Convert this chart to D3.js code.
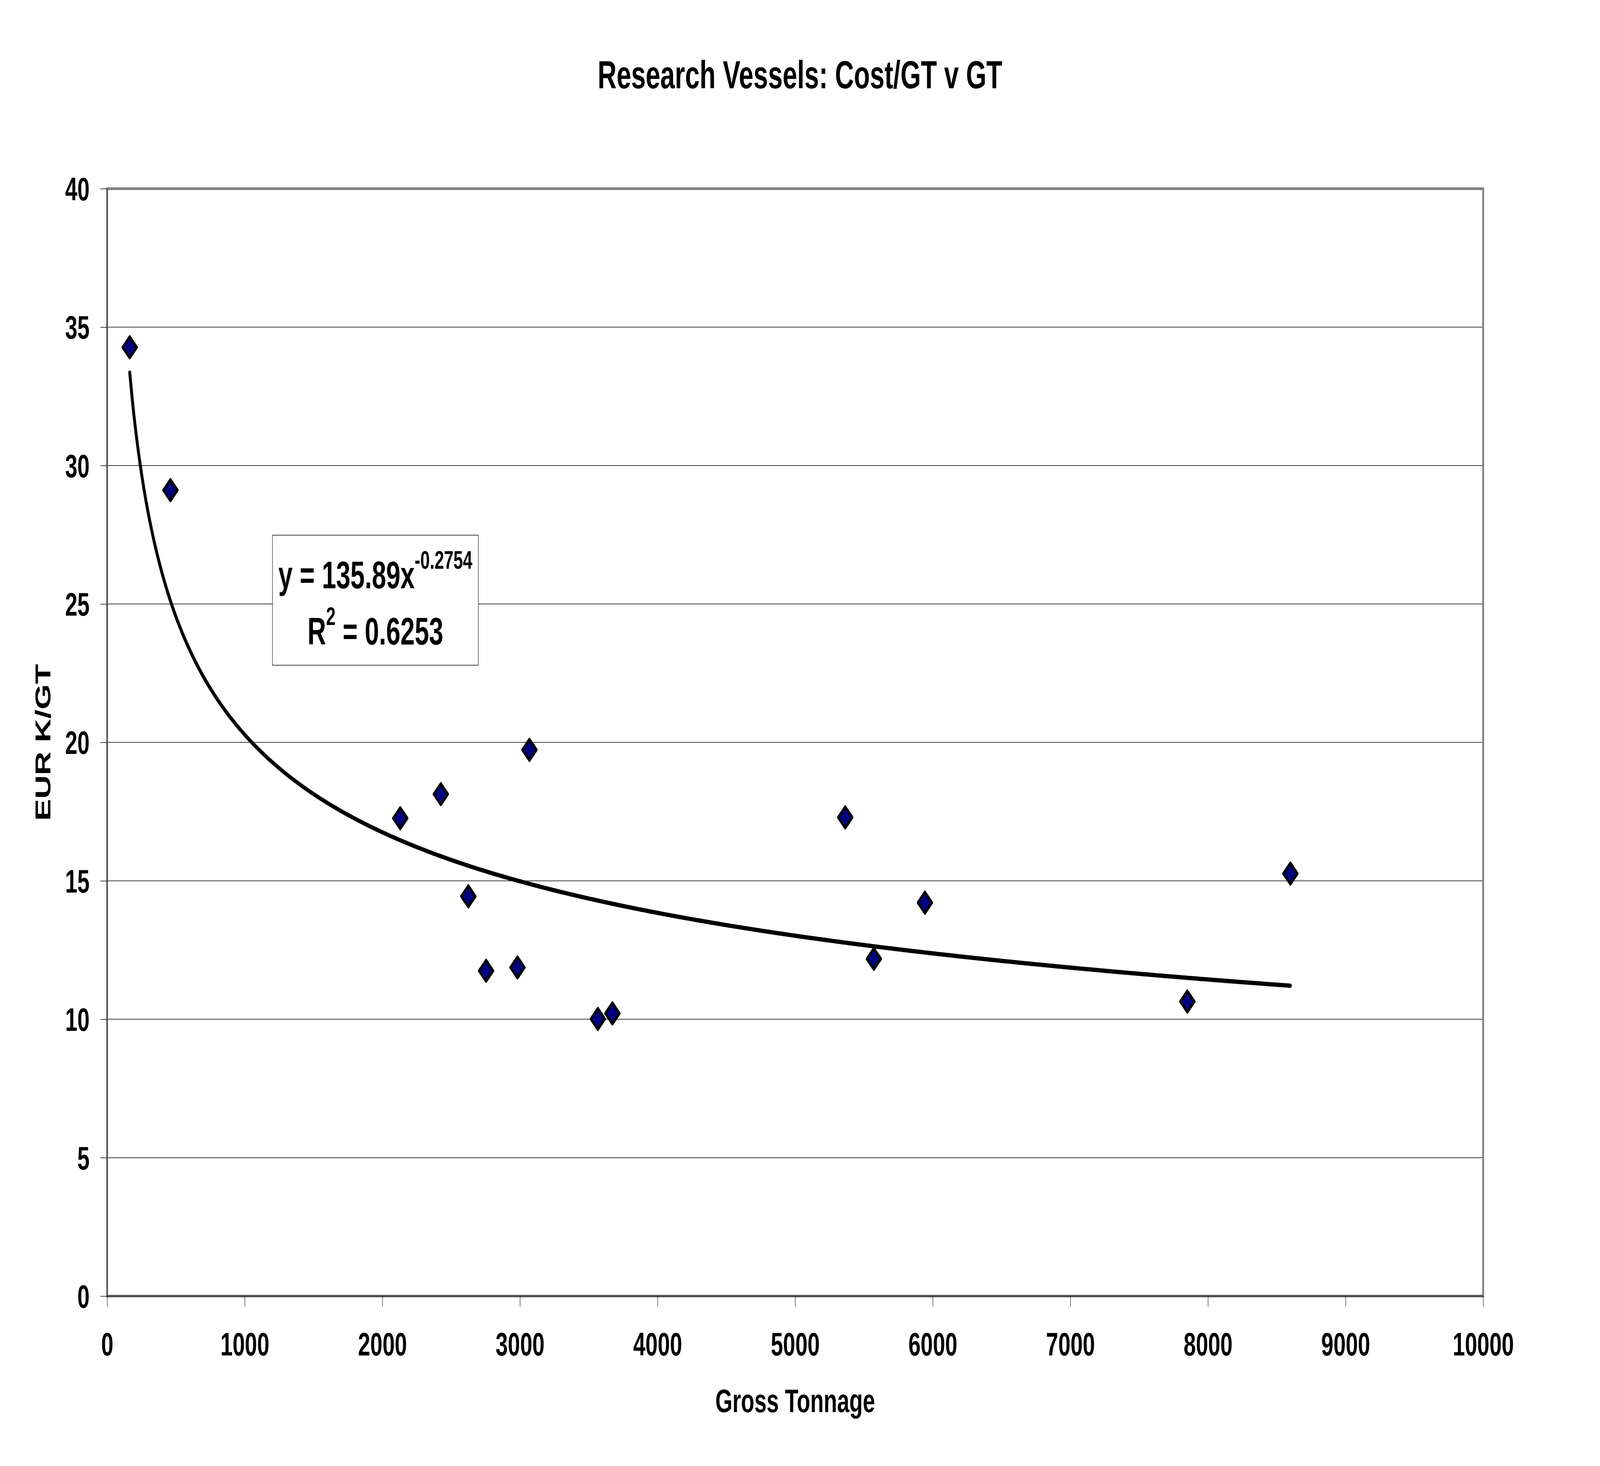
<!DOCTYPE html>
<html lang="en">
<head>
  <meta charset="UTF-8">
  <title>Research Vessels: Cost/GT v GT</title>
  <style>
    html, body { margin: 0; width: 100%; height: 100%; background: #fff; overflow: hidden; }
    svg { display: block; width: 100vw; height: 100vh; font-family: "Liberation Sans", Arial, sans-serif; font-weight: bold; }
    .grid line { stroke: #000; stroke-width: 1.5; }
    .axis path { display: none; }
    .axis line { stroke: #000; stroke-width: 1.5; }
    .axis text { font-size: 84px; fill: #000; }
  </style>
</head>
<body>
  <!-- drawn on the reference's 6108x3753 canvas, stretched to whatever window we get -->
  <svg id="chart" viewBox="0 0 6108 3753" preserveAspectRatio="none"></svg>
  <script src="https://cdn.jsdelivr.net/npm/d3@7"></script>
  <script>
    // vessel data
    const grossTonnage = [164, 460, 2130, 2425, 2625, 2754, 2982, 3069, 3566, 3672, 5364, 5572, 5943, 7850, 8599];
    const costPerGT   = [34.27, 29.11, 17.26, 18.13, 14.44, 11.75, 11.87, 19.73, 10.01, 10.21, 17.29, 12.18, 14.21, 10.64, 15.26];

    const xTicks = [0, 1000, 2000, 3000, 4000, 5000, 6000, 7000, 8000, 9000, 10000];
    const yTicks = [0, 5, 10, 15, 20, 25, 30, 35, 40];

    // power trendline as printed on the chart
    const trendCoef = 135.89;
    const trendExp = -0.2754;
    const trendR2 = "0.6253";

    const width = 6108, height = 3753;
    const margin = { top: 483, right: 446, bottom: 435, left: 409 };

    const svg = d3.select("#chart");

    svg.append("rect").attr("width", width).attr("height", height).attr("fill", "#fff");

    const x = d3.scaleLinear().domain([0, 10000]).range([margin.left, width - margin.right]);
    const y = d3.scaleLinear().domain([0, 40]).range([height - margin.bottom, margin.top]);

    // horizontal gridlines
    svg.append("g")
      .attr("class", "grid")
      .selectAll("line")
      .data(yTicks.filter(d => d > 0 && d < 40))
      .join("line")
      .attr("x1", x(0)).attr("x2", x(10000))
      .attr("y1", d => y(d)).attr("y2", d => y(d));

    // plot frame
    svg.append("rect")
      .attr("x", x(0)).attr("y", y(40))
      .attr("width", x(10000) - x(0)).attr("height", y(0) - y(40))
      .attr("fill", "none").attr("stroke", "#808080").attr("stroke-width", 7);

    // axes
    const yAxis = svg.append("g")
      .attr("class", "axis")
      .attr("transform", `translate(${x(0)},0)`)
      .call(d3.axisLeft(y).tickValues(yTicks).tickFormat(d3.format("d")).tickSize(26).tickPadding(41));
    yAxis.selectAll("text").attr("dy", "0.35em");

    svg.append("line")
      .attr("x1", x(0)).attr("x2", x(0)).attr("y1", y(40)).attr("y2", y(0))
      .attr("stroke", "#000").attr("stroke-width", 1.5);

    const xAxis = svg.append("g")
      .attr("class", "axis")
      .attr("transform", `translate(0,${y(0)})`)
      .call(d3.axisBottom(x).tickValues(xTicks).tickFormat(d3.format("d")).tickSize(27).tickPadding(0));
    xAxis.selectAll("text").attr("dy", null).attr("y", 152);

    svg.append("line")
      .attr("x1", x(0)).attr("x2", x(10000)).attr("y1", y(0)).attr("y2", y(0))
      .attr("stroke", "#000").attr("stroke-width", 1.5);

    // trendline
    const xMin = d3.min(grossTonnage), xMax = d3.max(grossTonnage);
    const trendX = d3.range(xMin, xMax, 20).concat([xMax]);
    const line = d3.line()
      .x(d => x(d))
      .y(d => y(trendCoef * Math.pow(d, trendExp)))
      .curve(d3.curveMonotoneX);

    svg.append("path")
      .datum(trendX)
      .attr("d", line)
      .attr("fill", "none")
      .attr("stroke", "#000")
      .attr("stroke-width", 11)
      .attr("stroke-linecap", "round")
      .attr("stroke-linejoin", "round");

    // diamond markers
    const pts = grossTonnage.map((g, i) => ({ gt: g, cost: costPerGT[i] }));
    svg.append("g")
      .selectAll("path")
      .data(pts)
      .join("path")
      .attr("transform", d => `translate(${x(d.gt)},${y(d.cost)})`)
      .attr("d", "M0,-27L27,0L0,27L-27,0Z")
      .attr("fill", "#000080")
      .attr("stroke", "#000")
      .attr("stroke-width", 8)
      .attr("stroke-linejoin", "round");

    // trendline label box
    const box = svg.append("g");
    box.append("rect")
      .attr("x", 1040).attr("y", 1370).attr("width", 786).attr("height", 333)
      .attr("fill", "#fff").attr("stroke", "#000").attr("stroke-width", 1.5);

    const eq = box.append("text")
      .attr("x", 1433).attr("y", 1506)
      .attr("text-anchor", "middle")
      .style("font-size", "98px");
    eq.append("tspan").text(`y = ${trendCoef}x`);
    eq.append("tspan").attr("dy", -50).style("font-size", "65px").text(trendExp);

    const r2 = box.append("text")
      .attr("x", 1433).attr("y", 1650)
      .attr("text-anchor", "middle")
      .style("font-size", "98px");
    r2.append("tspan").text("R");
    r2.append("tspan").attr("dy", -50).style("font-size", "65px").text("2");
    r2.append("tspan").attr("dy", 50).text(` = ${trendR2}`);

    // titles
    svg.append("text")
      .attr("x", width / 2).attr("y", 226)
      .attr("text-anchor", "middle")
      .style("font-size", "100px")
      .text("Research Vessels: Cost/GT v GT");

    svg.append("text")
      .attr("x", (x(0) + x(10000)) / 2).attr("y", 3615)
      .attr("text-anchor", "middle")
      .style("font-size", "84px")
      .text("Gross Tonnage");

    svg.append("text")
      .attr("transform", `translate(193,${(y(0) + y(40)) / 2}) rotate(-90)`)
      .attr("text-anchor", "middle")
      .style("font-size", "84px")
      .text("EUR K/GT");
  </script>
</body>
</html>
